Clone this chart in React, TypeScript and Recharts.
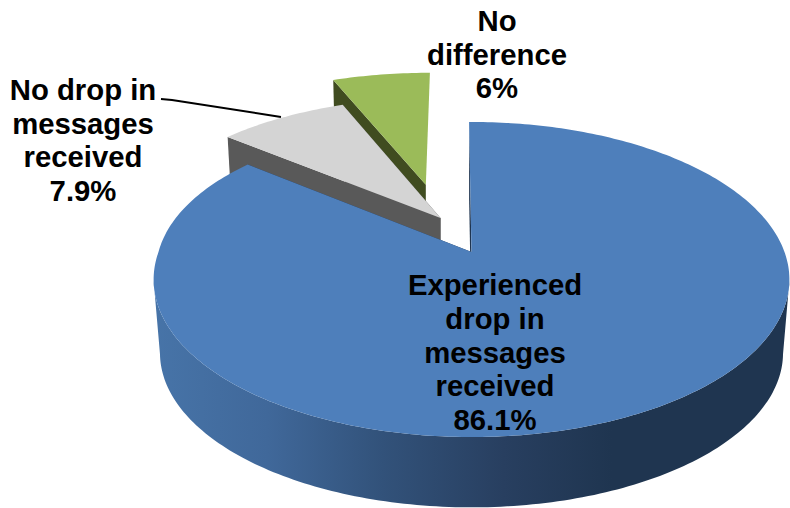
import React from "react";
import { PieChart, Pie } from "recharts";

// Slices run counter-clockwise from the top, so the largest one paints last and sits in front.
const sliceNames = ["No difference", "No drop in messages received", "Experienced drop in messages received"];
const sliceValues = [6, 7.9, 86.1];
const labelLines = [
  ["No", "difference", "6%"],
  ["No drop in", "messages", "received", "7.9%"],
  ["Experienced", "drop in", "messages", "received", "86.1%"],
];

const chartData = sliceNames.map((name, i) => ({ name, value: sliceValues[i] }));

// Pull-out of each slice on the pie's plane, as fractions of the radius (sideways, backwards).
const explodeOffsets: [number, number][] = [
  [-0.158, 0.476],
  [-0.103, 0.232],
  [0, 0],
];

const faceColors = ["#9bbb59", "#d4d4d4", "#4e7fbb"];
const wallColors = ["#404c20", "#595959", "#1f3550"];
const rimColors = ["#404c20", "#595959", "url(#rimShade)"];

// Label placement: centre x, first baseline, line spacing.
const labelAnchors = [
  { x: 497, y: 31, step: 33.5 },
  { x: 83, y: 100, step: 33.7 },
  { x: 495, y: 295, step: 33.8 },
];
const leaderPoints = "161,99 172,100 281,117";

// Perspective of the tilted pie.
const TILT = 0.488;
const PERSPECTIVE = 0.1746;
const BACK_SPREAD = 0.045;
const DEPTH = 74;
const BOTTOM_SCALE = 0.98;

type Pt = [number, number];

function project(cx: number, cy: number, r: number, u: number, v: number): Pt {
  const d = 1 + PERSPECTIVE * v;
  return [cx + (r * u) / d, cy - (r * TILT * v) / d];
}

const toPath = (pts: Pt[]) =>
  "M" + pts.map((p) => `${p[0].toFixed(2)},${p[1].toFixed(2)}`).join("L") + "Z";

function Slice3D(props: any) {
  const { cx, cy, outerRadius, startAngle, endAngle, index } = props;
  const [du, dv] = explodeOffsets[index];
  const apex = project(cx, cy, outerRadius, du, dv);

  const arc: Pt[] = [];
  const steps = Math.max(8, Math.ceil(Math.abs(endAngle - startAngle)));
  for (let i = 0; i <= steps; i++) {
    const angle = startAngle + ((endAngle - startAngle) * i) / steps;
    const theta = ((90 - angle) * Math.PI) / 180;
    const v = Math.cos(theta);
    const spread = Math.sin(theta) < 0 ? 1 + BACK_SPREAD * Math.max(v, 0) : 1;
    arc.push(project(cx, cy, outerRadius, Math.sin(theta) * spread + du, v + dv));
  }

  const low = (p: Pt): Pt => [
    apex[0] + (p[0] - apex[0]) * BOTTOM_SCALE,
    apex[1] + (p[1] - apex[1]) * BOTTOM_SCALE + DEPTH,
  ];
  const first = arc[0];
  const last = arc[arc.length - 1];

  // Only the part of the rim facing the viewer: going counter-clockwise, x grows along it.
  const front = arc.filter((p, i) => {
    const next = arc[i + 1];
    const prev = arc[i - 1];
    return (next && next[0] > p[0]) || (prev && p[0] > prev[0]);
  });

  return (
    <g>
      <defs>
        <linearGradient id="rimShade" gradientUnits="userSpaceOnUse" x1="153" y1="0" x2="790" y2="0">
          <stop offset="0" stopColor="#4774a8" />
          <stop offset="0.18" stopColor="#40689a" />
          <stop offset="0.36" stopColor="#32527a" />
          <stop offset="0.55" stopColor="#283f60" />
          <stop offset="0.72" stopColor="#1f3550" />
          <stop offset="1" stopColor="#1f3550" />
        </linearGradient>
      </defs>
      {first[0] < apex[0] && <path d={toPath([apex, first, low(first), low(apex)])} fill={wallColors[index]} />}
      <path d={toPath([apex, last, low(last), low(apex)])} fill={wallColors[index]} />
      {front.length > 1 && <path d={toPath([...front, ...front.map(low).reverse()])} fill={rimColors[index]} />}
      <path d={toPath([apex, ...arc])} fill={faceColors[index]} />
    </g>
  );
}

function SliceLabel(props: any) {
  const { index } = props;
  const anchor = labelAnchors[index];
  return (
    <g>
      {index === 1 && <polyline points={leaderPoints} fill="none" stroke="#000" strokeWidth={2} />}
      <text
        textAnchor="middle"
        fill="#000"
        style={{ fontFamily: '"Liberation Sans", Arial, sans-serif', fontWeight: 700, fontSize: 29.3 }}
      >
        {labelLines[index].map((line, i) => (
          <tspan key={line + i} x={anchor.x} y={anchor.y + i * anchor.step}>
            {line}
          </tspan>
        ))}
      </text>
    </g>
  );
}

export default function App() {
  return (
    <div style={{ position: "absolute", left: 0, top: 0, width: 790, height: 508, background: "#fff" }}>
      <PieChart width={790} height={508} margin={{ top: 0, right: 0, bottom: 0, left: 0 }}>
        <Pie
          data={chartData}
          dataKey="value"
          nameKey="name"
          cx={471.5}
          cy={252}
          innerRadius={0}
          outerRadius={313}
          startAngle={90.5}
          endAngle={450.5}
          stroke="none"
          shape={Slice3D}
          label={SliceLabel}
          labelLine={false}
          isAnimationActive={false}
        />
      </PieChart>
    </div>
  );
}
